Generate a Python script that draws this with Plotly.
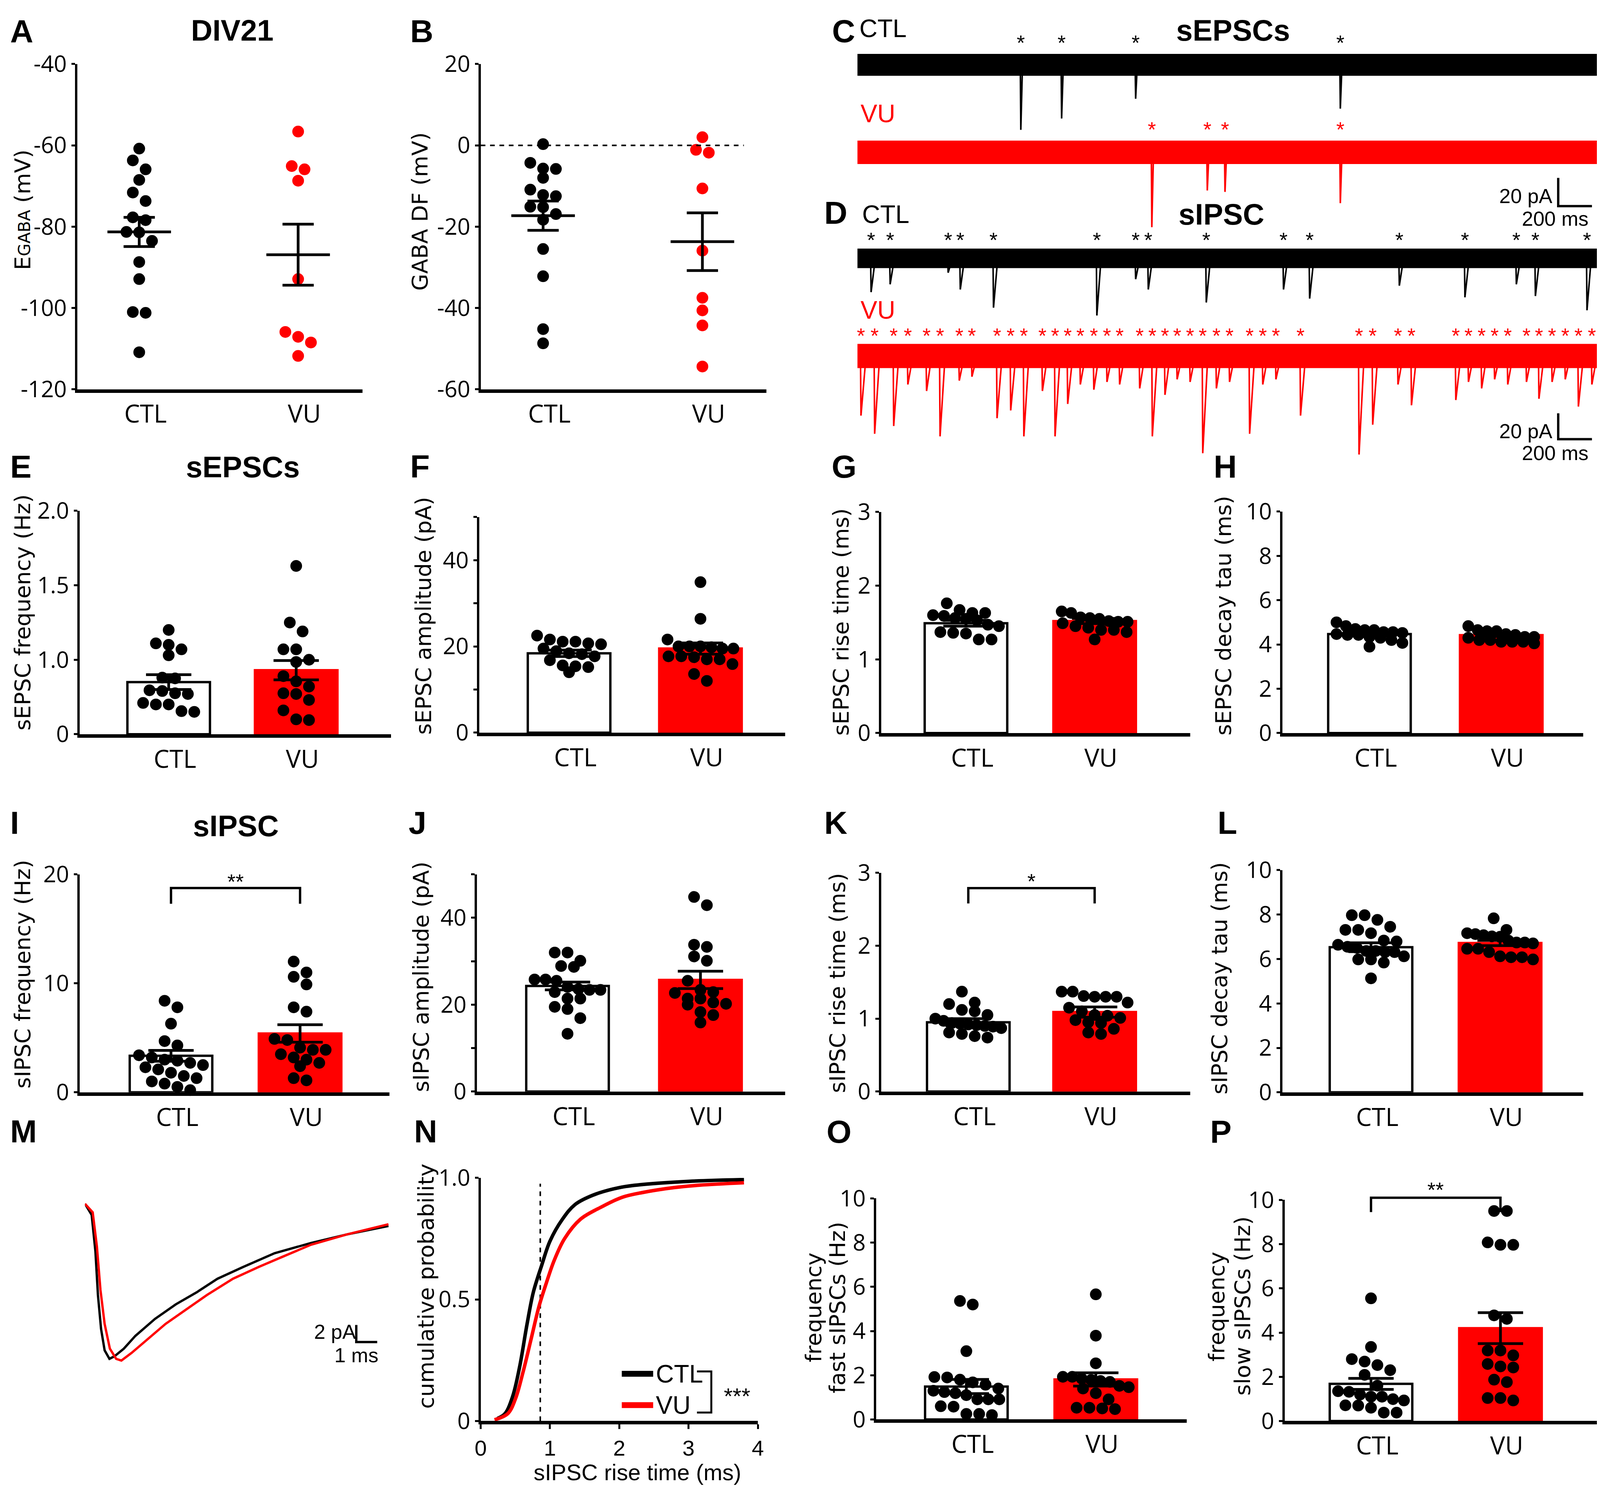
import plotly.graph_objects as go

W, H = 4129, 3833
RED = "#ff0000"
TICK = "Open Sans, Liberation Sans, sans-serif"
SANS = "Liberation Sans, Arial, sans-serif"
WIDE = "DejaVu Sans, Verdana, sans-serif"
GROUPS = ["CTL", "VU"]

# ---------------- values ----------------
# A / B: DIV21 GABA reversal potential and driving force (mV)
egaba_ctl = [-60.8, -63.7, -65.9, -68.5, -71.6, -73.7, -77.7, -78.4, -81.3, -81.4, -83.5, -88.7, -92.9, -101.0, -101.2, -110.9]
egaba_vu = [-56.6, -65.1, -65.9, -68.7, -92.9, -105.9, -107.1, -108.5, -111.8]
egaba_mean = [-81.3, -86.9]
egaba_sem = [3.6, 7.5]
egaba_ticks = [-120, -100, -80, -60, -40]

df_ctl = [0.3, -4.3, -5.8, -5.7, -8.0, -10.9, -12.5, -12.2, -15.2, -15.1, -16.9, -18.3, -25.5, -32.2, -45.2, -48.7]
df_vu = [2.0, -1.8, -1.1, -10.6, -25.9, -37.5, -40.6, -44.3, -54.4]
df_mean = [-17.3, -23.7]
df_sem = [3.6, 7.1]
df_ticks = [-60, -40, -20, 0, 20]

# C / D: example traces, event times (ms) and peak amplitudes (pA)
trace_ms = 4386
sepsc_ctl_t = [969, 1211, 1650, 2864]
sepsc_ctl_amp = [46, 38, 24, 31]
sepsc_vu_t = [1746, 2075, 2180, 2864]
sepsc_vu_amp = [53, 27, 28, 36]
sipsc_ctl_t = [81, 194, 538, 610, 807, 1420, 1650, 1725, 2069, 2527, 2682, 3214, 3603, 3908, 4021, 4327]
sipsc_ctl_amp = [26, 20, 11, 24, 38, 44, 16, 24, 34, 24, 31, 21, 30, 20, 29, 40]
sipsc_vu_t = [21, 102, 215, 299, 410, 490, 604, 679, 828, 909, 987, 1097, 1172, 1247, 1322, 1402, 1480, 1555,
              1674, 1749, 1824, 1896, 1973, 2048, 2129, 2207, 2326, 2404, 2482, 2628, 2975, 3056, 3206, 3286,
              3549, 3624, 3702, 3779, 3857, 3968, 4042, 4120, 4198, 4276, 4356]
sipsc_vu_amp = [46, 60, 54, 22, 27, 62, 19, 16, 48, 42, 62, 27, 62, 37, 22, 26, 20, 22, 25, 62, 30, 18, 20, 75,
                25, 20, 60, 22, 18, 46, 76, 53, 22, 38, 34, 20, 25, 18, 22, 20, 33, 20, 18, 39, 22]

# E-H: sEPSCs
efreq_ctl = [1.20, 1.11, 1.10, 1.07, 1.03, 0.76, 0.75, 0.59, 0.58, 0.55, 0.54, 0.42, 0.40, 0.40, 0.31, 0.30]
efreq_vu = [1.63, 1.25, 1.19, 1.07, 1.07, 1.00, 0.97, 0.78, 0.71, 0.64, 0.55, 0.54, 0.46, 0.32, 0.20, 0.19]
efreq_mean = [0.70, 0.86]
efreq_sem = [0.10, 0.13]
efreq_ticks = [0, 1.0, 1.5, 2.0]   # two-segment axis: 0-1.0 then 1.0-2.0

eamp_ctl = [22.5, 21.6, 21.1, 21.1, 20.7, 20.5, 19.5, 18.9, 18.4, 18.2, 17.7, 16.8, 15.6, 15.4, 15.2, 14.0]
eamp_vu = [34.9, 26.4, 21.6, 20.0, 20.0, 20.0, 19.8, 19.5, 19.5, 17.7, 17.7, 17.5, 17.0, 17.0, 15.9, 13.6, 12.0]
eamp_mean = [18.4, 19.5]
eamp_sem = [0.75, 1.3]

erise_ctl = [1.76, 1.67, 1.63, 1.63, 1.60, 1.59, 1.56, 1.55, 1.53, 1.47, 1.45, 1.37, 1.36, 1.35, 1.27, 1.27]
erise_vu = [1.65, 1.63, 1.57, 1.56, 1.55, 1.52, 1.51, 1.51, 1.49, 1.45, 1.43, 1.40, 1.40, 1.37, 1.27]
erise_mean = [1.49, 1.52]
erise_sem = [0.04, 0.035]

edecay_ctl = [5.0, 4.83, 4.70, 4.65, 4.65, 4.56, 4.56, 4.52, 4.47, 4.43, 4.43, 4.34, 4.30, 4.20, 4.07, 3.9]
edecay_vu = [4.83, 4.65, 4.60, 4.60, 4.47, 4.43, 4.34, 4.34, 4.30, 4.20, 4.20, 4.12, 4.12, 4.12, 4.05]
edecay_mean = [4.47, 4.42]
edecay_sem = [0.07, 0.06]

# I-L: sIPSCs
ifreq_ctl = [8.4, 7.8, 6.3, 4.7, 4.3, 3.4, 3.2, 3.0, 2.9, 2.7, 2.5, 2.3, 2.1, 1.8, 1.5, 1.3, 1.0, 0.8, 0.5, 0.2]
ifreq_vu = [12.0, 11.0, 10.6, 9.9, 7.8, 7.4, 4.9, 4.8, 4.1, 3.9, 3.9, 3.5, 3.2, 3.0, 2.7, 2.4, 1.3, 1.1]
ifreq_mean = [3.35, 5.4]
ifreq_sem = [0.5, 0.8]

iamp_ctl = [32.0, 32.0, 30.1, 28.9, 28.7, 25.8, 25.8, 25.5, 24.1, 23.6, 23.4, 23.4, 22.9, 21.4, 21.4, 19.5, 19.0, 16.9, 13.3]
iamp_vu = [44.8, 42.9, 33.8, 33.3, 31.1, 30.1, 25.5, 23.4, 22.9, 22.7, 21.4, 21.4, 20.5, 20.2, 20.0, 18.3, 17.6, 15.9]
iamp_mean = [24.3, 25.7]
iamp_sem = [0.9, 2.0]

irise_ctl = [1.37, 1.22, 1.20, 1.12, 1.10, 1.05, 1.00, 0.97, 0.94, 0.93, 0.92, 0.91, 0.90, 0.89, 0.87, 0.81, 0.79, 0.76, 0.74]
irise_vu = [1.37, 1.37, 1.31, 1.30, 1.30, 1.30, 1.22, 1.15, 1.10, 1.05, 1.04, 1.01, 0.98, 0.95, 0.94, 0.86, 0.81, 0.79]
irise_mean = [0.95, 1.09]
irise_sem = [0.05, 0.07]

idecay_ctl = [7.97, 7.97, 7.76, 7.45, 7.31, 7.31, 7.16, 6.83, 6.79, 6.64, 6.55, 6.50, 6.36, 6.36, 6.31, 6.31, 6.12, 5.98, 5.98, 5.84, 5.13]
idecay_vu = [7.83, 7.31, 7.16, 7.12, 7.07, 7.02, 7.00, 6.83, 6.74, 6.74, 6.70, 6.46, 6.46, 6.31, 6.12, 6.08, 6.08, 5.98]
idecay_mean = [6.53, 6.72]
idecay_sem = [0.2, 0.12]

# M: average sIPSC (ms, pA)
avg_ctl_t = [0, 0.32, 0.5, 0.62, 0.77, 0.94, 1.17, 1.41, 1.86, 2.41, 3.35, 4.34, 5.33, 6.33, 7.57, 9.06, 10.8, 12.5, 14.5]
avg_ctl_i = [0, -1.3, -5.6, -10.7, -14.7, -17.2, -18.2, -17.9, -17.0, -15.5, -13.5, -11.8, -10.4, -8.8, -7.4, -5.8, -4.6, -3.6, -2.6]
avg_vu_t = [0, 0.37, 0.57, 0.74, 0.94, 1.19, 1.49, 1.74, 2.23, 2.85, 3.85, 4.84, 5.83, 7.07, 8.31, 9.55, 10.8, 12.5, 14.5]
avg_vu_i = [0, -1.0, -5.0, -10.1, -14.1, -17.0, -18.2, -18.4, -17.5, -16.2, -14.1, -12.4, -10.7, -8.8, -7.4, -6.1, -4.8, -3.6, -2.4]

# N: cumulative distribution of sIPSC rise times
cum_ctl_t = [0.24, 0.35, 0.46, 0.56, 0.67, 0.76, 0.88, 1.00, 1.18, 1.36, 1.63, 2.0, 2.34, 3.01, 3.8]
cum_ctl_p = [0.01, 0.03, 0.10, 0.22, 0.40, 0.53, 0.64, 0.74, 0.83, 0.89, 0.93, 0.96, 0.973, 0.986, 0.993]
cum_vu_t = [0.20, 0.39, 0.50, 0.61, 0.73, 0.84, 0.95, 1.06, 1.21, 1.44, 1.74, 2.04, 2.34, 2.79, 3.16, 3.8]
cum_vu_p = [0.005, 0.03, 0.09, 0.20, 0.34, 0.47, 0.57, 0.66, 0.75, 0.83, 0.88, 0.92, 0.94, 0.96, 0.97, 0.98]
rise_cutoff = 0.86

# O / P: fast and slow sIPSC frequency (Hz)
fast_ctl = [5.36, 5.20, 3.09, 1.92, 1.90, 1.80, 1.68, 1.57, 1.40, 1.30, 1.24, 1.19, 1.10, 0.91, 0.91, 0.91, 0.60, 0.58, 0.25, 0.25, 0.20]
fast_vu = [5.66, 3.79, 2.54, 1.93, 1.93, 1.85, 1.79, 1.74, 1.70, 1.52, 1.46, 1.40, 1.19, 0.91, 0.53, 0.53, 0.50, 0.47]
fast_mean = [1.49, 1.81]
fast_sem = [0.32, 0.3]

slow_ctl = [5.55, 3.35, 2.80, 2.69, 2.53, 2.30, 2.09, 1.60, 1.35, 1.32, 1.20, 1.10, 1.10, 0.99, 0.93, 0.71, 0.70, 0.60, 0.38, 0.38]
slow_vu = [9.50, 9.50, 8.08, 7.97, 7.97, 4.78, 4.62, 3.19, 3.19, 2.97, 2.58, 2.47, 2.42, 1.87, 1.76, 1.04, 1.04, 0.93]
slow_mean = [1.68, 4.2]
slow_sem = [0.25, 0.7]

# ---------------- building blocks ----------------
traces = []
layout = dict(width=W, height=H, margin=dict(l=0, r=0, t=0, b=0), paper_bgcolor="white",
              plot_bgcolor="rgba(0,0,0,0)", showlegend=False, annotations=[], shapes=[],
              font=dict(family=SANS, color="black"))
n_ax = [0]
DOT = 30
BAR_PX = 213
CAP = 58

# positions below are pixels of the target picture; the rendered page lands
# 26 px right / 45 px down and 1.2 % shorter, so map through these two
SHIFT_X, SHIFT_Y, SQUEEZE_Y = 26, 45, 0.988


def fx(x):
    return (x - SHIFT_X) / W


def fy(y):
    return 1 - (y - SHIFT_Y) / SQUEEZE_Y / H


def new_axes(x0, x1, yt, yb, xr, yr):
    n_ax[0] += 1
    s = "" if n_ax[0] == 1 else str(n_ax[0])
    base = dict(showgrid=False, zeroline=False, fixedrange=True, visible=False)
    layout["xaxis" + s] = dict(base, domain=[max(fx(x0), 0), min(fx(x1), 1)], range=xr, anchor="y" + s)
    layout["yaxis" + s] = dict(base, domain=[fy(yb), min(fy(yt), 1)], range=yr, anchor="x" + s)
    return s


def px_axes(x0, x1, yt, yb, ox, sx, oy, sy):
    return new_axes(x0, x1, yt, yb, [(x0 - ox) / sx, (x1 - ox) / sx], [(oy - yb) / sy, (oy - yt) / sy])


def text(x, y, s, size, color="black", family=SANS, xanchor="center", angle=0):
    px, py = fx(x), fy(y)
    if angle:
        px = max(px, 34 / W)
    else:
        py = min(py, 1 - 0.37 * size / H)
        if xanchor == "left":
            px = max(px, 0)
    layout["annotations"].append(dict(x=px, y=py, xref="paper", yref="paper", text=s,
                                      showarrow=False, xanchor=xanchor, yanchor="middle", textangle=angle,
                                      font=dict(size=size, color=color, family=family)))


def hline(x0, x1, y, color, width):
    layout["shapes"].append(dict(type="line", xref="paper", yref="paper", x0=fx(x0), x1=fx(x1),
                                 y0=fy(y), y1=fy(y), line=dict(color=color, width=width)))


def swarm(vals, ppy, max_px):
    order = sorted(range(len(vals)), key=lambda i: -vals[i])
    rows, cur = [], []
    for i in order:
        if cur and (vals[cur[0]] - vals[i]) * ppy >= DOT:
            rows.append(cur)
            cur = []
        cur.append(i)
    rows.append(cur)
    offs = [0.0] * len(vals)
    for row in rows:
        n = len(row)
        step = min(DOT + 3, max_px / (n - 1)) if n > 1 else 0
        for j, i in enumerate(row):
            offs[i] = (j - (n - 1) / 2) * step
    return offs


def stat_panel(box, yr, ticks, labels, data, mean, sem, bars=True, colors=("black", "black"), fwd=lambda v: v):
    left, right, top, bottom, c0, c1 = box
    unit = c1 - c0
    xr = [(left - c0) / unit, (right - c0) / unit]
    s = new_axes(left, right, top, bottom, xr, yr)
    layout["xaxis" + s].update(visible=True, showline=True, linewidth=9, linecolor="black", ticks="",
                               tickvals=[0, 1], ticktext=GROUPS, ticklabelshift=16,
                               tickfont=dict(size=64, family=TICK, color="black"))
    layout["yaxis" + s].update(visible=True, showline=True, linewidth=6, linecolor="black", ticks="outside",
                               ticklen=9, tickwidth=5, tickcolor="black", tickvals=[fwd(v) for v in ticks],
                               ticktext=labels, tickfont=dict(size=58, family=TICK, color="black"))
    ppy = (bottom - top) / (yr[1] - yr[0])
    ys = [fwd(m) for m in mean]
    err = dict(type="data", symmetric=False, color="black", thickness=7, width=CAP,
               array=[fwd(m + e) - fwd(m) for m, e in zip(mean, sem)],
               arrayminus=[fwd(m) - fwd(m - e) for m, e in zip(mean, sem)])
    ax = dict(xaxis="x" + s, yaxis="y" + s)
    if bars:
        traces.append(go.Bar(x=[0, 1], y=ys, width=BAR_PX / unit, error_y=err,
                             marker=dict(color=["white", RED], line=dict(color=["black", RED], width=6)), **ax))
    for g, vals in enumerate(data):
        tv = [fwd(v) for v in vals]
        offs = swarm(tv, ppy, 170 if bars else 132)
        traces.append(go.Scatter(x=[g + o / unit for o in offs], y=tv, mode="markers", cliponaxis=False,
                                 marker=dict(size=DOT, color=colors[g], line=dict(width=0)), **ax))
    if not bars:
        xs, yl = [], []
        for g, m in enumerate(ys):
            xs += [g - 82 / unit, g + 82 / unit, None]
            yl += [m, m, None]
        traces.append(go.Scatter(x=xs, y=yl, mode="lines", line=dict(color="black", width=7), **ax))
        traces.append(go.Scatter(x=[0, 1], y=ys, mode="markers", marker=dict(size=1, opacity=0),
                                 error_y=dict(err, width=40), **ax))
    return dict(s=s, c0=c0, unit=unit, bottom=bottom, ppy=ppy, y0=yr[0], xr=xr)


def ref_px(p, g, v):
    return p["c0"] + g * p["unit"], p["bottom"] - (v - p["y0"]) * p["ppy"]


def bracket(p, y_top, y_end, y_txt, stars):
    x0, yt = ref_px(p, 0, y_top)
    x1, ye = ref_px(p, 1, y_end)
    layout["shapes"].append(dict(type="path", xref="paper", yref="paper", line=dict(color="black", width=6),
                                 path=f"M {fx(x0)},{fy(ye)} L {fx(x0)},{fy(yt)} L {fx(x1)},{fy(yt)} L {fx(x1)},{fy(ye)}"))
    xm, ym = ref_px(p, 0.5, y_txt)
    text(xm, ym + 10, stars, 54)


def trace_row(s, base, times, amps, color, band, decay, star_px, ppy):
    ax = dict(xaxis="x" + s, yaxis="y" + s)
    traces.append(go.Scatter(x=[0, trace_ms], y=[base, base], mode="lines", line=dict(color=color, width=band), **ax))
    xs, ys = [], []
    for t, a in zip(times, amps):
        xs += [t - 3, t, t + decay, None]
        ys += [base, base - a, base, None]
    traces.append(go.Scatter(x=xs, y=ys, mode="lines", line=dict(color=color, width=4), **ax))
    traces.append(go.Scatter(x=times, y=[base + star_px / ppy] * len(times), mode="text", text=["*"] * len(times),
                             textfont=dict(size=54, color=color, family=SANS), cliponaxis=False, **ax))


def scale_bar(s, x, y, dx, dy):
    traces.append(go.Scatter(x=[x, x, x + dx], y=[y + dy, y, y], mode="lines",
                             line=dict(color="black", width=6), xaxis="x" + s, yaxis="y" + s))


# ---------------- A, B ----------------
stat_panel((201, 937, 160, 1000, 361, 771), [-120, -40], egaba_ticks, [str(v) for v in egaba_ticks],
           [egaba_ctl, egaba_vu], egaba_mean, egaba_sem, bars=False, colors=("black", RED))
pB = stat_panel((1242, 1979, 160, 1000, 1403, 1814), [-60, 20], df_ticks, [str(v) for v in df_ticks],
                [df_ctl, df_vu], df_mean, df_sem, bars=False, colors=("black", RED))
traces.append(go.Scatter(x=[pB["xr"][0], (1921 - 1403) / pB["unit"]], y=[0, 0], mode="lines",
                         line=dict(color="black", width=4, dash="dash"), xaxis="x" + pB["s"], yaxis="y" + pB["s"]))

# ---------------- C, D traces ----------------
PX_MS = 0.435
sC = px_axes(2214, 4125, 60, 610, 2214, PX_MS, 162, 3.65)
trace_row(sC, 0, sepsc_ctl_t, sepsc_ctl_amp, "black", 56, 10, 52, 3.65)
trace_row(sC, -(388 - 162) / 3.65, sepsc_vu_t, sepsc_vu_amp, RED, 60, 10, 54, 3.65)
scale_bar(sC, (4022 - 2214) / PX_MS, -(527 - 162) / 3.65, 200, 20)

sD = px_axes(2214, 4125, 560, 1195, 2214, PX_MS, 662, 3.35)
trace_row(sD, 0, sipsc_ctl_t, sipsc_ctl_amp, "black", 50, 25, 42, 3.35)
trace_row(sD, -(914 - 662) / 3.35, sipsc_vu_t, sipsc_vu_amp, RED, 62, 30, 47, 3.35)
scale_bar(sD, (4022 - 2214) / PX_MS, -(1129 - 662) / 3.35, 200, 20)

for y in (501, 1108):
    text(4009, y, "20 pA", 52, xanchor="right")
for y in (559, 1165):
    text(4103, y, "200 ms", 52, xanchor="right")
text(2217, 68, "CTL", 64, xanchor="left")
text(2220, 288, "VU", 64, color=RED, xanchor="left")
text(2224, 548, "CTL", 64, xanchor="left")
text(2220, 796, "VU", 64, color=RED, xanchor="left")


# ---------------- E-H ----------------
def seg(v):
    return v / 2 if v <= 1.0 else v - 0.5


stat_panel((207, 1011, 1314, 1891, 437, 766), [0, seg(2.0)], efreq_ticks, ["0", "1.0", "1.5", "2.0"],
           [efreq_ctl, efreq_vu], efreq_mean, efreq_sem, fwd=seg)
amp_ticks = [0, 10, 20, 30, 40, 50]
amp_labels = ["0", "", "20", "", "40", ""]
stat_panel((1238, 2028, 1330, 1887, 1470, 1809), [0, 50], amp_ticks, amp_labels,
           [eamp_ctl, eamp_vu], eamp_mean, eamp_sem)
rise_ticks = [0, 1, 2, 3]
stat_panel((2275, 3073, 1317, 1888, 2494, 2826), [0, 3], rise_ticks, [str(v) for v in rise_ticks],
           [erise_ctl, erise_vu], erise_mean, erise_sem)
ten_ticks = [0, 2, 4, 6, 8, 10]
stat_panel((3310, 4086, 1316, 1888, 3535, 3875), [0, 10], ten_ticks, [str(v) for v in ten_ticks],
           [edecay_ctl, edecay_vu], edecay_mean, edecay_sem)

# ---------------- I-L ----------------
freq_ticks = [0, 10, 20]
pI = stat_panel((207, 1007, 2253, 2816, 443, 776), [0, 20], freq_ticks, [str(v) for v in freq_ticks],
                [ifreq_ctl, ifreq_vu], ifreq_mean, ifreq_sem)
stat_panel((1232, 2028, 2253, 2814, 1466, 1809), [0, 50], amp_ticks, amp_labels,
           [iamp_ctl, iamp_vu], iamp_mean, iamp_sem)
pK = stat_panel((2275, 3073, 2249, 2814, 2500, 2826), [0, 3], rise_ticks, [str(v) for v in rise_ticks],
                [irise_ctl, irise_vu], irise_mean, irise_sem)
stat_panel((3310, 4086, 2242, 2816, 3539, 3872), [0, 10], ten_ticks, [str(v) for v in ten_ticks],
           [idecay_ctl, idecay_vu], idecay_mean, idecay_sem)
bracket(pI, 18.75, 17.3, 19.7, "**")
bracket(pK, 2.79, 2.58, 2.94, "*")

# ---------------- M ----------------
sM = px_axes(221, 1010, 3060, 3540, 221, 54, 3104, 22)
traces.append(go.Scatter(x=avg_ctl_t, y=avg_ctl_i, mode="lines", line=dict(color="black", width=6),
                         xaxis="x" + sM, yaxis="y" + sM))
traces.append(go.Scatter(x=avg_vu_t, y=avg_vu_i, mode="lines", line=dict(color=RED, width=6),
                         xaxis="x" + sM, yaxis="y" + sM))
scale_bar(sM, (921 - 221) / 54, -(3461 - 3104) / 22, 1, 2)
text(922, 3435, "2 pA", 52, xanchor="right")
text(980, 3495, "1 ms", 52, xanchor="right")

# ---------------- N ----------------
sN = new_axes(1242, 1957, 3037, 3665, [0, 4], [0, 1])
layout["xaxis" + sN].update(visible=True, showline=True, linewidth=9, linecolor="black", ticks="outside",
                            ticklen=12, tickwidth=5, tickcolor="black", tickvals=[0, 1, 2, 3, 4],
                            tickfont=dict(size=56, family=SANS, color="black"))
layout["yaxis" + sN].update(visible=True, showline=True, linewidth=6, linecolor="black", ticks="outside",
                            ticklen=9, tickwidth=5, tickcolor="black", tickvals=[0, 0.5, 1.0],
                            ticktext=["0", "0.5", "1.0"], tickfont=dict(size=58, family=TICK, color="black"))
traces.append(go.Scatter(x=[rise_cutoff, rise_cutoff], y=[0, 0.976], mode="lines",
                         line=dict(color="black", width=4, dash="dash"), xaxis="x" + sN, yaxis="y" + sN))
traces.append(go.Scatter(x=cum_ctl_t, y=cum_ctl_p, mode="lines", line=dict(color="black", width=9, shape="spline"),
                         xaxis="x" + sN, yaxis="y" + sN))
traces.append(go.Scatter(x=cum_vu_t, y=cum_vu_p, mode="lines", line=dict(color=RED, width=9, shape="spline"),
                         xaxis="x" + sN, yaxis="y" + sN))
text(1647, 3797, "sIPSC rise time (ms)", 58)
for yy, col, lab in ((3543, "black", "CTL"), (3624, RED, "VU")):
    hline(1606, 1687, yy, col, 15)
    text(1692, yy, lab, 64, xanchor="left")
layout["shapes"].append(dict(type="path", xref="paper", yref="paper", line=dict(color="black", width=5),
                             path=f"M {fx(1800)},{fy(3537)} L {fx(1837)},{fy(3537)} "
                                  f"L {fx(1837)},{fy(3643)} L {fx(1800)},{fy(3643)}"))
text(1904, 3600, "***", 58)

# ---------------- O, P ----------------
stat_panel((2262, 3064, 3090, 3661, 2495, 2829), [0, 10], ten_ticks, [str(v) for v in ten_ticks],
           [fast_ctl, fast_vu], fast_mean, fast_sem)
pP = stat_panel((3316, 4125, 3094, 3665, 3539, 3873), [0, 10], ten_ticks, [str(v) for v in ten_ticks],
                [slow_ctl, slow_vu], slow_mean, slow_sem)
bracket(pP, 10.1, 9.45, 10.65, "**")

# ---------------- texts ----------------
for lab, x, y in (("A", 16, 55), ("B", 1058, 55), ("C", 2146, 56), ("D", 2126, 544),
                  ("E", 20, 1200), ("F", 1058, 1200), ("G", 2145, 1200), ("H", 3131, 1200),
                  ("I", 16, 2120), ("J", 1054, 2120), ("K", 2126, 2120), ("L", 3141, 2120),
                  ("M", 16, 2917), ("N", 1068, 2917), ("O", 2132, 2918), ("P", 3122, 2918)):
    text(x, y, f"<b>{lab}</b>", 82, xanchor="left")

for lab, x, y in (("DIV21", 601, 64), ("sEPSCs", 3183, 58), ("sIPSC", 3153, 548),
                  ("sEPSCs", 629, 1201), ("sIPSC", 611, 2128)):
    text(x, y, f"<b>{lab}</b>", 76)

for lab, x, y in (("E<span style='font-size:42px'>GABA</span> (mV)", 40, 536), ("GABA DF (mV)", 1085, 541),
                  ("sEPSC frequency (Hz)", 57, 1576), ("sEPSC amplitude (pA)", 1094, 1585),
                  ("sEPSC rise time (ms)", 2171, 1601), ("sEPSC decay tau (ms)", 3158, 1585),
                  ("sIPSC frequency (Hz)", 50, 2511), ("sIPSC amplitude (pA)", 1088, 2518),
                  ("sIPSC rise time (ms)", 2162, 2533), ("sIPSC decay tau (ms)", 3148, 2521),
                  ("cumulative probability", 1101, 3317),
                  ("frequency", 2100, 3371), ("fast sIPSCs (Hz)", 2162, 3372),
                  ("frequency", 3140, 3369), ("slow sIPSCs (Hz)", 3207, 3368)):
    text(x, y, lab, 56, family=WIDE, angle=-90)

fig = go.Figure(data=traces, layout=layout)
fig.write_html("out.html")
